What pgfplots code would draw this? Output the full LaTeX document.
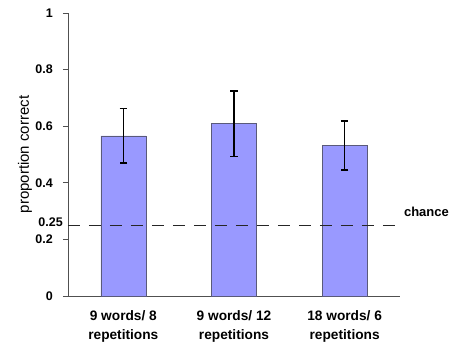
\documentclass[border=0pt]{standalone}
\usepackage{pgfplots}
\pgfplotsset{compat=1.18}
\usepackage{fontspec}
\setmainfont{Liberation Sans}
\definecolor{barfill}{HTML}{9999FF}
\definecolor{baredge}{HTML}{5A5A7A}
\definecolor{axgray}{HTML}{505050}
\begin{document}
\begin{tikzpicture}
\path[use as bounding box] (-68pt,-49pt) rectangle (383pt,296pt);
\begin{axis}[
  scale only axis,
  width=332pt, height=283pt,
  at={(0,0)}, anchor=south west,
  xmin=-0.5, xmax=2.5, ymin=0, ymax=1,
  axis x line*=bottom, axis y line*=left,
  axis line style={axgray, line width=0.8pt},
  every tick/.style={axgray, line width=0.8pt},
  tick align=outside,
  ytick={0,0.2,0.4,0.6,0.8,1},
  yticklabels={0,0.2,0.4,0.6,0.8,1},
  extra y ticks={0.25},
  extra y tick labels={0.25},
  extra y tick style={major tick length=0pt, yticklabel style={xshift=5pt, yshift=3.5pt}},
  major tick length=5pt,
  xtick={0,1,2},
  xticklabels={{9 words/ 8\\repetitions},{9 words/ 12\\repetitions},{18 words/ 6\\repetitions}},
  xtick style={draw=none},
  extra x ticks={-0.5,0.5,1.5,2.5},
  extra x tick labels={},
  extra x tick style={xtick style={axgray, line width=0.8pt}, major tick length=5pt},
  xticklabel style={align=center, font=\fontsize{13.7}{18.7}\selectfont\bfseries, anchor=north, inner sep=0pt, yshift=-9.5pt},
  yticklabel style={font=\fontsize{12.5}{13}\selectfont\bfseries, anchor=east, inner sep=0pt, xshift=-10pt},
  /pgf/number format/assume math mode=true,
  ylabel={proportion correct},
  ylabel style={font=\fontsize{15}{16}\selectfont, yshift=-5pt},
  clip=false,
]
\addplot[ybar, bar width=45pt, fill=barfill, draw=baredge, line width=0.6pt,
  error bars/.cd, y dir=both, y explicit,
  error bar style={black, line width=1.6pt},
  error mark options={black, line width=1.6pt, mark size=3.8pt, rotate=90}]
  coordinates {
  (0,0.566) +- (0,0.096)
  (1,0.609) +- (0,0.116)
  (2,0.532) +- (0,0.087)
};
\addplot[black!85, line width=0.9pt, dash pattern=on 12pt off 9pt] coordinates {(-0.5,0.25) (2.5,0.25)};
\node[anchor=west, inner sep=0pt, font=\fontsize{13}{14}\selectfont\bfseries] at (axis cs:2.535,0.297) {chance};
\end{axis}
\end{tikzpicture}
\end{document}
